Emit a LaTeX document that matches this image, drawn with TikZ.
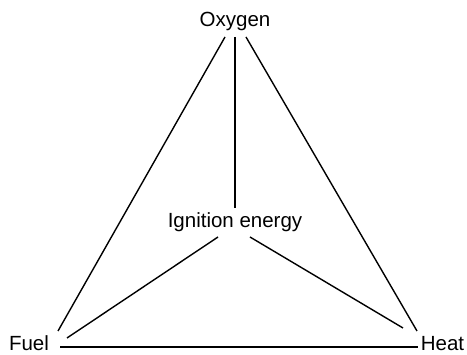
\documentclass[tikz,border=0pt]{standalone}
\usepackage{fontspec}
\setmainfont{Liberation Sans}
\begin{document}
\begin{tikzpicture}[x=1pt,y=-1pt,
  lbl/.style={inner sep=0pt,anchor=base,font=\fontsize{20.5}{23}\selectfont},
  edge/.style={line width=1.4pt,black}]
\useasboundingbox (0,0) rectangle (467,355);
\node[lbl] (oxy) at (235,27) {Oxygen};
\node[lbl] (ign) at (235,228) {Ignition energy};
\node[lbl] (fuel) at (29,350.5) {Fuel};
\node[lbl] (heat) at (442.5,350.5) {Heat};
\draw[edge] ([shift={(-10,10)}]oxy.base) -- ([shift={(29,-19.5)}]fuel.base);
\draw[edge] ([shift={(11,10)}]oxy.base) -- ([shift={(-25.5,-19.5)}]heat.base);
\draw[edge] ([shift={(0,10)}]oxy.base) -- ([shift={(0,-20)}]ign.base);
\draw[edge] ([shift={(-17,9)}]ign.base) -- ([shift={(38,-12.5)}]fuel.base);
\draw[edge] ([shift={(15,9)}]ign.base) -- ([shift={(-39.5,-22.5)}]heat.base);
\draw[edge] ([shift={(31,-3.5)}]fuel.base) -- ([shift={(-24.5,-3.5)}]heat.base);
\end{tikzpicture}
\end{document}
